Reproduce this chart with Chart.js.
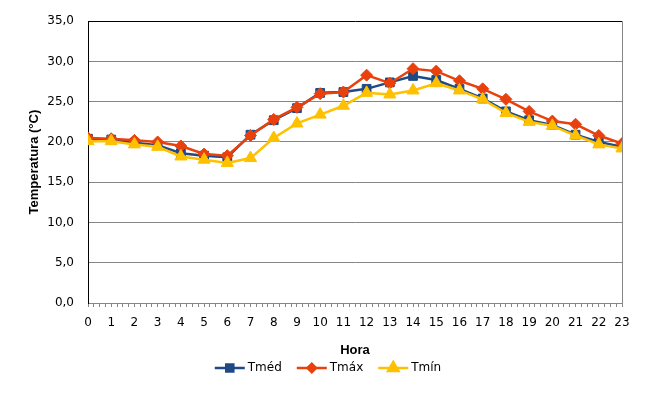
<!DOCTYPE html>
<html>
<head>
<meta charset="utf-8">
<script src="https://cdn.jsdelivr.net/npm/chart.js@4.4.0/dist/chart.umd.min.js"></script>
<style>
  body { margin: 0; background: #fff; }
  canvas { display: block; }
</style>
</head>
<body>
<canvas id="chart" width="662" height="400"></canvas>
<script>
const hours = [0, 1, 2, 3, 4, 5, 6, 7, 8, 9, 10, 11, 12, 13, 14, 15, 16, 17, 18, 19, 20, 21, 22, 23];
const tmed = [20.4, 20.3, 19.9, 19.6, 18.6, 18.3, 18.1, 20.9, 22.7, 24.2, 26.1, 26.2, 26.6, 27.4, 28.2, 27.7, 26.6, 25.4, 23.8, 22.7, 22.1, 20.9, 20.0, 19.4];
const tmax = [20.5, 20.4, 20.2, 20.0, 19.5, 18.5, 18.3, 20.8, 22.8, 24.3, 26.0, 26.2, 28.3, 27.3, 29.1, 28.8, 27.6, 26.6, 25.3, 23.8, 22.6, 22.2, 20.8, 19.8];
const tmin = [20.1, 20.1, 19.7, 19.4, 18.2, 17.8, 17.4, 18.0, 20.5, 22.3, 23.4, 24.5, 26.1, 25.9, 26.4, 27.3, 26.4, 25.3, 23.6, 22.5, 22.0, 20.8, 19.7, 19.2];

const FONT = "'DejaVu Sans', Verdana, sans-serif";
const TITLE_FONT = "'Liberation Sans', Arial, sans-serif";
const GRID = "#868686";

const series = [
  { label: "Tméd", data: tmed, color: "#1F4A86", style: "rect", r: 6.2, lr: 5, order: 3 },
  { label: "Tmáx", data: tmax, color: "#E8410E", style: "rectRot", r: 6, lr: 4.2, order: 2 },
  { label: "Tmín", data: tmin, color: "#FFC000", style: "triangle", r: 7, lr: 6, order: 1 }
];

// legend like excel: short line with the marker in the middle
const legendPlugin = {
  id: "excelLegend",
  afterDraw(chart) {
    const ctx = chart.ctx;
    ctx.save();
    ctx.font = "12px " + FONT;
    const lineW = 30, gap = 3, spacing = 15;
    let total = 0;
    series.forEach((s, i) => {
      total += lineW + gap + ctx.measureText(s.label).width;
      if (i < series.length - 1) total += spacing;
    });
    let x = 328 - total / 2;
    const y = 368;
    series.forEach((s) => {
      ctx.strokeStyle = s.color;
      ctx.lineWidth = 2.5;
      ctx.beginPath();
      ctx.moveTo(x, y);
      ctx.lineTo(x + lineW, y);
      ctx.stroke();
      ctx.fillStyle = s.color;
      Chart.helpers.drawPoint(ctx, { pointStyle: s.style, radius: s.lr, rotation: 0, borderWidth: 1 }, x + lineW / 2, y);
      ctx.fillStyle = "#000";
      ctx.textBaseline = "middle";
      ctx.textAlign = "left";
      ctx.fillText(s.label, x + lineW + gap, y);
      x += lineW + gap + ctx.measureText(s.label).width + spacing;
    });
    ctx.restore();
  }
};

new Chart(document.getElementById("chart").getContext("2d"), {
  type: "line",
  data: {
    datasets: series.map((s) => ({
      label: s.label,
      data: hours.map((h, i) => ({ x: h, y: s.data[i] })),
      borderColor: s.color,
      backgroundColor: s.color,
      borderWidth: 2.5,
      pointStyle: s.style,
      pointRadius: s.r,
      pointBorderWidth: 1,
      pointBackgroundColor: s.color,
      pointBorderColor: s.color,
      tension: 0,
      order: s.order
    }))
  },
  options: {
    responsive: false,
    animation: false,
    layout: { padding: { left: 0, right: 40, top: 18, bottom: 40 } },
    plugins: {
      legend: { display: false },
      tooltip: { enabled: false }
    },
    scales: {
      x: {
        type: "linear",
        min: 0,
        max: 23,
        afterFit: (scale) => { scale.height = 57; },
        border: { display: true, color: GRID, width: 1 },
        grid: {
          color: (c) => (c.tick && c.tick.value === 23 ? GRID : "rgba(0,0,0,0)"),
          tickColor: GRID,
          tickLength: 4,
          lineWidth: 1
        },
        ticks: {
          stepSize: 0.25,
          autoSkip: false,
          maxRotation: 0,
          padding: 9,
          color: "#000",
          font: { family: FONT, size: 12 },
          callback: (v) => (Number.isInteger(v) ? String(v) : "")
        },
        title: {
          display: true,
          text: "Hora",
          color: "#000",
          font: { family: TITLE_FONT, size: 13, weight: "bold" },
          padding: { top: 0, bottom: 2 }
        }
      },
      y: {
        min: 0,
        max: 35,
        afterFit: (scale) => { scale.width = 88; },
        border: { display: true, color: "#000", width: 1 },
        grid: {
          color: (c) => (c.tick && c.tick.value === 35 ? "#000" : GRID),
          drawTicks: false,
          lineWidth: 1
        },
        ticks: {
          stepSize: 5,
          padding: 14,
          color: "#000",
          font: { family: FONT, size: 12 },
          callback: (v) => v.toFixed(1).replace(".", ",")
        },
        title: {
          display: true,
          text: "Temperatura (°C)",
          color: "#000",
          font: { family: TITLE_FONT, size: 13, weight: "bold" },
          padding: { top: 27, bottom: 0 }
        }
      }
    }
  },
  plugins: [legendPlugin]
});
</script>
</body>
</html>
